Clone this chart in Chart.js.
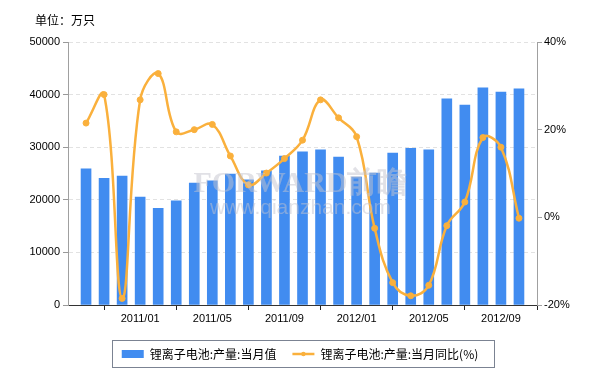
<!DOCTYPE html>
<html>
<head>
<meta charset="utf-8">
<script src="https://cdn.jsdelivr.net/npm/chart.js@4/dist/chart.umd.min.js"></script>
<style>
  body { margin: 0; background: #fff; }
  #wrap { position: relative; width: 600px; height: 380px; }
  #unit { position: absolute; left: 35px; top: 11px; font: 12px "Noto Sans CJK SC", sans-serif; color: #000; }
</style>
</head>
<body>
<div id="wrap">
  <div id="unit">单位：万只</div>
  <canvas id="myChart" width="600" height="380"></canvas>
</div>
<script>
// months on the x axis (first and last are empty slots)
var months = ['2010/09', '2010/10', '2010/11', '2010/12', '2011/01', '2011/02', '2011/03', '2011/04', '2011/05',
    '2011/06', '2011/07', '2011/08', '2011/09', '2011/10', '2011/11', '2011/12', '2012/01', '2012/02', '2012/03',
    '2012/04', '2012/05', '2012/06', '2012/07', '2012/08', '2012/09', '2012/10', '2012/11'];

// 当月值 (万只)
var output = [null, 25900, 24100, 24500, 20500, 18400, 19800, 23200, 23600, 24900, 23800, 25500, 28300,
    29100, 29500, 28100, 24300, 25100, 28900, 29800, 29500, 39200, 38000, 41300, 40500, 41100, null];

// 当月同比 (%)
var yoy = [null, 21.5, 28.0, -18.5, 26.8, 32.8, 19.5, 20.0, 21.2, 14.0, 7.4, 10.1, 13.4,
    17.6, 26.8, 22.7, 18.4, -2.5, -14.9, -17.9, -15.5, -1.9, 3.5, 18.2, 16.0, -0.2, null];

var barLabel = '锂离子电池:产量:当月值';
var lineLabel = '锂离子电池:产量:当月同比(%)';

var blue = 'rgb(65,140,240)';
var orange = 'rgb(250,176,60)';
var tickFont = { family: 'Liberation Sans, Arial, sans-serif', size: 11 };

// box round the legend, plus the small dot on the line sample
var legendBorder = {
    id: 'legendBorder',
    afterDraw: function(chart) {
        var boxes = chart.legend.legendHitBoxes;
        if (!boxes || !boxes.length) return;
        var left = boxes[0].left, right = 0, mid = boxes[0].top + boxes[0].height / 2;
        boxes.forEach(function(b) {
            left = Math.min(left, b.left);
            right = Math.max(right, b.left + b.width);
        });
        var ctx = chart.ctx;
        ctx.save();
        ctx.strokeStyle = '#7b8392';
        ctx.lineWidth = 1;
        ctx.strokeRect(Math.round(left - 10) + 0.5, Math.round(mid - 14) + 0.5, Math.round(right - left + 25), 27);
        if (boxes[1]) {
            ctx.fillStyle = orange;
            ctx.beginPath();
            ctx.arc(boxes[1].left + 11, mid, 2.2, 0, Math.PI * 2);
            ctx.fill();
        }
        ctx.restore();
    }
};

// faint site watermark
var watermark = {
    id: 'watermark',
    afterDatasetsDraw: function(chart) {
        var a = chart.chartArea;
        var cx = (a.left + a.right) / 2 - 2;
        var cy = (a.top + a.bottom) / 2;
        var ctx = chart.ctx;
        ctx.save();
        ctx.textAlign = 'center';
        ctx.textBaseline = 'middle';
        ctx.fillStyle = 'rgba(195,195,205,0.5)';
        ctx.font = 'bold 30px "Liberation Serif", serif';
        ctx.fillText('FORWARD前瞻', cx, cy + 11);
        ctx.font = '21px "Liberation Sans", sans-serif';
        ctx.fillText('www.qianzhan.com', cx, cy + 35);
        ctx.restore();
    }
};

var ctx = document.getElementById('myChart').getContext('2d');

var myChart = new Chart(ctx, {
    data: {
        labels: months,
        datasets: [{
            type: 'bar',
            label: barLabel,
            data: output,
            backgroundColor: blue,
            borderWidth: 0,
            barThickness: 10,
            yAxisID: 'y',
            order: 1
        }, {
            type: 'line',
            label: lineLabel,
            data: yoy,
            borderColor: orange,
            backgroundColor: orange,
            borderWidth: 2.5,
            pointRadius: 3,
            pointBorderWidth: 1,
            tension: 0.4,
            yAxisID: 'y1',
            order: 0
        }]
    },
    options: {
        responsive: false,
        animation: false,
        layout: { padding: { top: 42, left: 0, right: 0, bottom: 10 } },
        plugins: {
            tooltip: { enabled: false },
            legend: {
                position: 'bottom',
                labels: {
                    usePointStyle: true,
                    pointStyleWidth: 22,
                    boxHeight: 8,
                    padding: 16,
                    color: '#000',
                    font: { family: '"Noto Sans CJK SC", sans-serif', size: 12 },
                    sort: function(a, b) { return a.datasetIndex - b.datasetIndex; },
                    generateLabels: function(chart) {
                        var items = Chart.defaults.plugins.legend.labels.generateLabels(chart);
                        items.forEach(function(item) {
                            if (item.datasetIndex === 0) {
                                item.pointStyle = 'rect';
                                item.lineWidth = 0;
                            } else {
                                item.pointStyle = 'line';
                                item.lineWidth = 2.5;
                                item.strokeStyle = orange;
                            }
                        });
                        return items;
                    }
                }
            }
        },
        scales: {
            x: {
                type: 'category',
                offset: false,
                afterBuildTicks: function(scale) {
                    scale.ticks = scale.ticks.filter(function(t) { return t.value % 4 === 0; });
                },
                afterFit: function(scale) { scale.height = 27; },
                ticks: {
                    autoSkip: false,
                    maxRotation: 0,
                    color: '#000',
                    font: tickFont,
                    padding: 2,
                    callback: function(value) {
                        return value === 0 ? '' : months[value];
                    }
                },
                grid: { drawOnChartArea: false, tickLength: 5, color: '#222' },
                border: { color: '#333' }
            },
            y: {
                position: 'left',
                min: 0,
                max: 50000,
                afterFit: function(scale) { scale.width = 68; },
                ticks: {
                    stepSize: 10000,
                    color: '#000',
                    font: tickFont,
                    padding: 3,
                    callback: function(v) { return String(v); }
                },
                grid: { color: '#e2e2e2', tickColor: '#999', tickLength: 5, tickBorderDash: [] },
                border: { color: '#a0a0a0', dash: [4, 3] }
            },
            y1: {
                position: 'right',
                min: -20,
                max: 40,
                afterFit: function(scale) { scale.width = 63; },
                ticks: {
                    stepSize: 20,
                    color: '#000',
                    font: tickFont,
                    padding: 2,
                    callback: function(v) { return v + '%'; }
                },
                grid: { drawOnChartArea: false, tickLength: 5, color: '#a0a0a0' },
                border: { color: '#a0a0a0' }
            }
        }
    },
    plugins: [watermark, legendBorder]
});
</script>
</body>
</html>
